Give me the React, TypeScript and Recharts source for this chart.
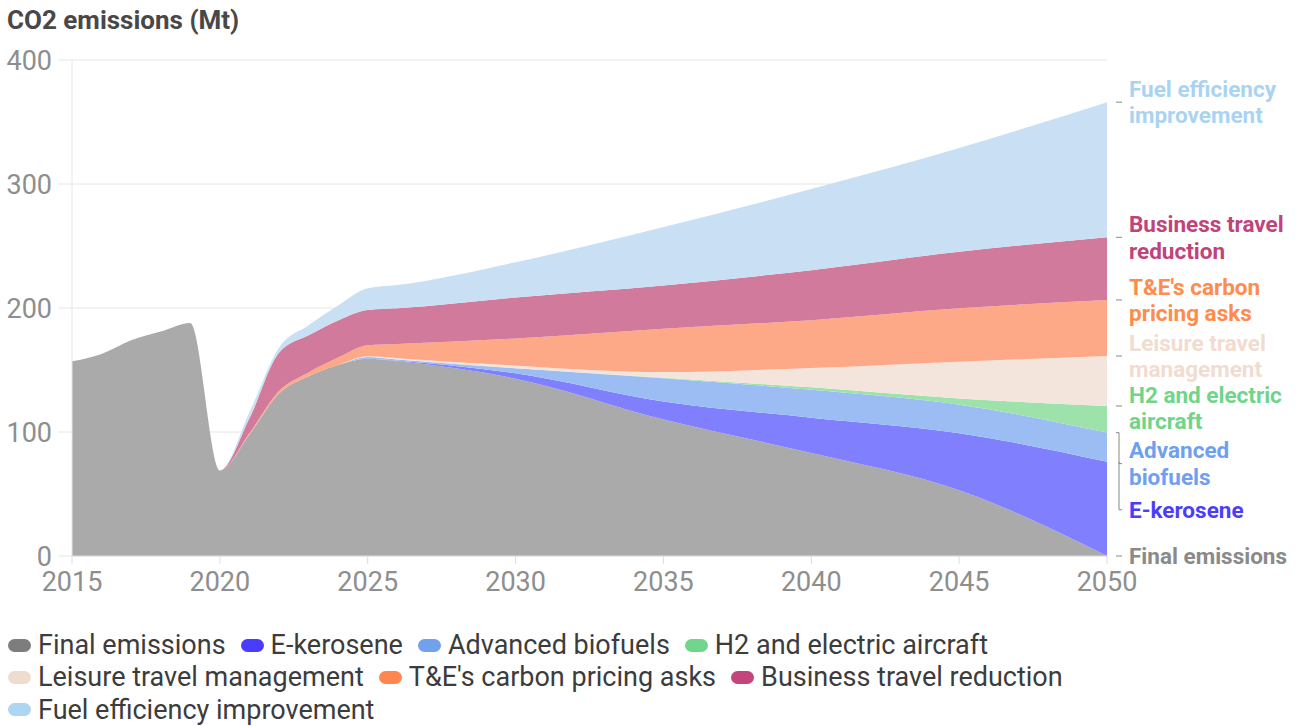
import React from 'react';
import { AreaChart, Area, XAxis, YAxis, CartesianGrid, LabelList } from 'recharts';

// years with a reading (yearly up to 2026, then every 5 years)
const years = [2015, 2016, 2017, 2018, 2019, 2020, 2021, 2022, 2023, 2024, 2025, 2026, 2030, 2035, 2040, 2045, 2050];

// Mt CO2, each band's own thickness
const finalEmissions = [157, 163, 174, 181, 188, 69, 98, 131, 145, 154, 159, 157, 143, 110, 83, 53, 0];
const eKerosene = [0, 0, 0, 0, 0, 0, 0, 0, 0, 0, 0, 0.5, 4.3, 14.5, 28.5, 46, 76];
const advancedBiofuels = [0, 0, 0, 0, 0, 0, 0, 0, 0, 0, 1.5, 1, 4.1, 18.8, 22.5, 23, 23.5];
const h2Electric = [0, 0, 0, 0, 0, 0, 0, 0, 0, 0, 0, 0, 0, 0.5, 2, 5, 21.5];
const leisureTravel = [0, 0, 0, 0, 0, 0, 0, 0, 0, 0, 0.5, 1, 2.1, 4.5, 15.6, 29.7, 40.3];
const carbonPricing = [0, 0, 0, 0, 0, 0, 1, 2, 3, 6, 9, 11.5, 22, 35, 38.6, 43, 45.2];
const businessTravel = [0, 0, 0, 0, 0, 0, 12, 31, 30, 30, 28.4, 28.7, 33, 34.9, 40.3, 45.7, 50.5];
const fuelEfficiency = [0, 0, 0, 0, 0, 0, 5, 4, 8, 12, 17.5, 18.8, 28.4, 47.1, 65.5, 83.6, 109];

const xTicks = [2015, 2020, 2025, 2030, 2035, 2040, 2045, 2050];
const yTicks = [0, 100, 200, 300, 400];

const seriesNames = [
  'Final emissions',
  'E-kerosene',
  'Advanced biofuels',
  'H2 and electric aircraft',
  'Leisure travel management',
  "T&E's carbon pricing asks",
  'Business travel reduction',
  'Fuel efficiency improvement',
];
const seriesValues = [finalEmissions, eKerosene, advancedBiofuels, h2Electric, leisureTravel, carbonPricing, businessTravel, fuelEfficiency];
const endLabels = [
  ['Final emissions'],
  ['E-kerosene'],
  ['Advanced', 'biofuels'],
  ['H2 and electric', 'aircraft'],
  ['Leisure travel', 'management'],
  ["T&E's carbon", 'pricing asks'],
  ['Business travel', 'reduction'],
  ['Fuel efficiency', 'improvement'],
];

const fillColors = ['#aaaaaa', '#8080ff', '#9cbdf3', '#9ce2aa', '#f3e5dc', '#fda987', '#d17a9c', '#c9e0f4'];
const keyColors = ['#7d7d7d', '#4a3cff', '#70a0ee', '#6fd68c', '#f0dccf', '#ff874f', '#c4447c', '#acd6f2'];
const labelColors = ['#8a8a8a', '#4b3dfb', '#6f9ff0', '#6fd58a', '#f1dccf', '#ff8b4d', '#c0437a', '#a9d3f3'];
// vertical nudges so the end labels don't collide
const labelShift = [0, 48, 31, 2, 0, 0, 0, 0];
const LINE_GAP = 26.5;

const keys = ['s0', 's1', 's2', 's3', 's4', 's5', 's6', 's7'];
const data = years.map((year, i) => {
  const row: Record<string, number> = { year };
  seriesValues.forEach((vals, s) => {
    row[keys[s]] = vals[i];
  });
  return row;
});

const FONT = 'Roboto, "Noto Sans", sans-serif';
const last = years.length - 1;

const makeEndLabel = (s: number) => (props: any) => {
  const { x, y, index } = props;
  const isLast = index === last || (index === undefined && x > 1100);
  if (!isLast || x == null || y == null) return null;
  const lines = endLabels[s];
  const center = y + labelShift[s];
  const first = center - ((lines.length - 1) * LINE_GAP) / 2;
  let mark;
  if (s === 2) {
    mark = <path d={`M${x + 9},${y} H${x + 12} V${y + labelShift[s]} H${x + 15}`} stroke="#888" fill="none" strokeWidth={1} />;
  } else if (s === 1) {
    mark = <path d={`M${x + 12},${y} V${y + labelShift[s]} H${x + 15}`} stroke="#888" fill="none" strokeWidth={1} />;
  } else {
    mark = <line x1={x + 9} x2={x + 15} y1={y} y2={y} stroke="#888" strokeWidth={1} />;
  }
  return (
    <g key={`end-${s}`}>
      {mark}
      <text x={x + 22} y={first + 8} fill={labelColors[s]} fontFamily={FONT} fontWeight={700} fontSize={22.5}>
        {lines.map((ln, k) => (
          <tspan key={k} x={x + 22} dy={k === 0 ? 0 : LINE_GAP}>
            {ln}
          </tspan>
        ))}
      </text>
    </g>
  );
};

export default function App() {
  return (
    <div style={{ position: 'absolute', left: 0, top: 0, width: 1308, height: 726, background: '#fff', fontFamily: FONT }}>
      <div
        style={{
          position: 'absolute',
          left: 7,
          top: 5,
          fontSize: 26,
          lineHeight: '30px',
          fontWeight: 700,
          color: '#484848',
        }}
      >
        CO2 emissions (Mt)
      </div>

      <div style={{ position: 'absolute', left: 0, top: 0 }}>
        <AreaChart width={1308} height={600} data={data} margin={{ top: 60, right: 201, left: 0, bottom: 0 }}>
          <CartesianGrid vertical={false} stroke="#e6e6e6" />
          <XAxis
            dataKey="year"
            type="number"
            domain={[2015, 2050]}
            ticks={xTicks}
            height={44}
            tickSize={8}
            tickMargin={8}
            axisLine={{ stroke: '#dddddd' }}
            tickLine={{ stroke: '#dddddd' }}
            tick={{ fill: '#8e8e8e', fontSize: 27, fontFamily: FONT }}
          />
          <YAxis
            type="number"
            domain={[0, 400]}
            ticks={yTicks}
            width={72}
            tickSize={14}
            tickMargin={6}
            axisLine={{ stroke: '#e6e6e6' }}
            tickLine={{ stroke: '#e6e6e6' }}
            tick={{ fill: '#8e8e8e', fontSize: 27, fontFamily: FONT }}
          />
          {keys.map((k, s) => (
            <Area
              key={k}
              dataKey={k}
              name={seriesNames[s]}
              stackId="1"
              type="monotone"
              stroke="none"
              fill={fillColors[s]}
              fillOpacity={1}
              isAnimationActive={false}
            >
              <LabelList dataKey={k} content={makeEndLabel(s)} />
            </Area>
          ))}
        </AreaChart>
      </div>

      <div
        style={{
          position: 'absolute',
          left: 8,
          top: 629,
          width: 1110,
          display: 'flex',
          flexWrap: 'wrap',
          fontSize: 27,
          lineHeight: '32.3px',
          color: '#3c3c3c',
        }}
      >
        {seriesNames.map((name, s) => (
          <div key={name} style={{ display: 'flex', alignItems: 'center', marginRight: 15, whiteSpace: 'nowrap' }}>
            <span
              style={{
                display: 'inline-block',
                width: 23,
                height: 13,
                borderRadius: 7,
                background: keyColors[s],
                marginRight: 7,
              }}
            />
            <span>{name}</span>
          </div>
        ))}
      </div>
    </div>
  );
}
